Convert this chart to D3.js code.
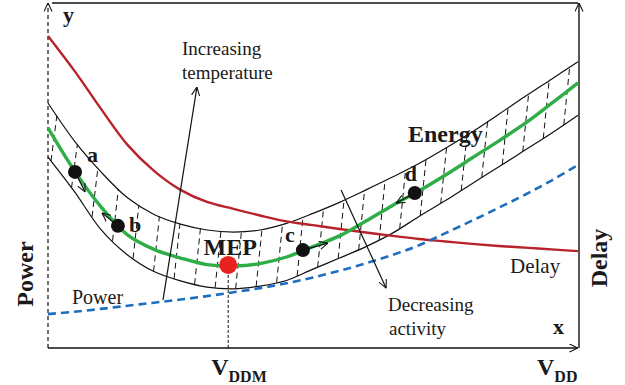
<!DOCTYPE html>
<html>
<head>
<meta charset="utf-8">
<script src="https://cdn.jsdelivr.net/npm/d3@7"></script>
<style>
  body { margin: 0; background: #fff; }
  svg { display: block; font-family: "Liberation Serif", "Times New Roman", serif; }
</style>
</head>
<body>
<div id="chart"></div>
<script>
// supply voltage samples (V), shared by every curve below
var vdd = [0.20, 0.25, 0.30, 0.35, 0.40, 0.45, 0.50, 0.55, 0.60, 0.65, 0.70,
           0.75, 0.80, 0.85, 0.90, 0.95, 1.00, 1.05, 1.10, 1.15, 1.20];
// normalised values
var delay = [0.902, 0.801, 0.691, 0.587, 0.512, 0.457, 0.422, 0.402, 0.383, 0.366, 0.355,
             0.344, 0.334, 0.324, 0.315, 0.308, 0.301, 0.295, 0.290, 0.285, 0.280];
var energy = [0.636, 0.512, 0.408, 0.327, 0.285, 0.260, 0.241, 0.237, 0.244, 0.263, 0.293,
              0.324, 0.367, 0.412, 0.454, 0.500, 0.549, 0.598, 0.649, 0.707, 0.766];
var energyHigh = [0.708, 0.598, 0.509, 0.434, 0.386, 0.358, 0.341, 0.335, 0.341, 0.360, 0.389,
                  0.421, 0.457, 0.494, 0.533, 0.577, 0.624, 0.675, 0.727, 0.777, 0.827];
var energyLow = [0.552, 0.452, 0.342, 0.269, 0.221, 0.194, 0.176, 0.171, 0.179, 0.195, 0.228,
                 0.260, 0.293, 0.332, 0.380, 0.426, 0.475, 0.523, 0.572, 0.621, 0.673];
var power = [0.098, 0.105, 0.113, 0.122, 0.131, 0.140, 0.150, 0.161, 0.173, 0.187, 0.204,
             0.223, 0.245, 0.269, 0.297, 0.332, 0.368, 0.405, 0.443, 0.484, 0.529];

// operating points on the energy curve and where their little arrows point
var opNames = ["a", "b", "c", "d"];
var opV = [0.251, 0.332, 0.681, 0.892];
var opE = [0.509, 0.353, 0.283, 0.448];
var opToV = [0.270, 0.302, 0.728, 0.857];
var opToE = [0.451, 0.390, 0.303, 0.419];

// minimum energy point
var mepV = 0.540, mepE = 0.240;

// long annotation arrows: [start, end] in (V, value)
var tempArrow = [[0.417, 0.139], [0.481, 0.754]];
var activityArrow = [[0.753, 0.457], [0.838, 0.173]];

var width = 625, height = 385;
var x = d3.scaleLinear().domain([0.2, 1.2]).range([48, 578]);
var y = d3.scaleLinear().domain([0, 1]).range([348, 2]);

var svg = d3.select("#chart").append("svg")
            .attr("width", width)
            .attr("height", height);

// open arrowhead used by every arrow
svg.append("defs").append("marker")
   .attr("id", "head")
   .attr("viewBox", "0 -5 10 10")
   .attr("refX", 9.5)
   .attr("refY", 0)
   .attr("markerUnits", "userSpaceOnUse")
   .attr("markerWidth", 9)
   .attr("markerHeight", 9)
   .attr("orient", "auto")
   .append("path")
   .attr("d", "M0,-4.5L9.5,0L0,4.5")
   .attr("fill", "none")
   .attr("stroke", "#111")
   .attr("stroke-width", 1.2);

function xy(v, arr) {
   return v.map(function(d, i) { return {v: d, e: arr[i]}; });
}

var line = d3.line()
             .x(function(d) { return x(d.v); })
             .y(function(d) { return y(d.e); })
             .curve(d3.curveCatmullRom.alpha(0.5));

// frame
svg.append("line")
   .attr("x1", x(0.2)).attr("y1", y(0))
   .attr("x2", x(0.2)).attr("y2", y(1) + 1)
   .attr("stroke", "#111").attr("stroke-width", 1.2)
   .attr("stroke-dasharray", "4,3")
   .attr("marker-end", "url(#head)");
svg.append("line")
   .attr("x1", x(0.2) + 4).attr("y1", y(1) + 1)
   .attr("x2", x(1.2)).attr("y2", y(1) + 1)
   .attr("stroke", "#111").attr("stroke-width", 1.4);
svg.append("line")
   .attr("x1", x(1.2) + 1).attr("y1", y(0))
   .attr("x2", x(1.2) + 1).attr("y2", y(1) + 1)
   .attr("stroke", "#111").attr("stroke-width", 1.4)
   .attr("marker-end", "url(#head)");
svg.append("line")
   .attr("x1", x(0.2)).attr("y1", y(0))
   .attr("x2", x(1.2)).attr("y2", y(0))
   .attr("stroke", "#111").attr("stroke-width", 1.4)
   .attr("marker-end", "url(#head)");

// hatching between the band edges
var highAt = d3.scaleLinear().domain(vdd).range(energyHigh);
var lowAt = d3.scaleLinear().domain(vdd).range(energyLow);
var hatchStep = 0.0387, hatchLean = 0.011;
var hatchV = d3.range(0.2057, 1.2 - hatchLean, hatchStep);
svg.append("g")
   .selectAll("line")
   .data(hatchV)
   .enter().append("line")
   .attr("x1", function(d) { return x(d); })
   .attr("y1", function(d) { return y(lowAt(d)); })
   .attr("x2", function(d) { return x(d + hatchLean); })
   .attr("y2", function(d) { return y(highAt(d + hatchLean)); })
   .attr("stroke", "#111")
   .attr("stroke-width", 1)
   .attr("stroke-dasharray", "6,4");

// band edges
[energyHigh, energyLow].forEach(function(arr) {
   svg.append("path")
      .datum(xy(vdd, arr))
      .attr("fill", "none")
      .attr("stroke", "#111")
      .attr("stroke-width", 1.2)
      .attr("d", line);
});

// delay
svg.append("path")
   .datum(xy(vdd, delay))
   .attr("fill", "none")
   .attr("stroke", "#b8232b")
   .attr("stroke-width", 2.4)
   .attr("d", line);

// power
svg.append("path")
   .datum(xy(vdd, power))
   .attr("fill", "none")
   .attr("stroke", "#1f6dbf")
   .attr("stroke-width", 2.6)
   .attr("stroke-dasharray", "8,5")
   .attr("d", line);

// energy
svg.append("path")
   .datum(xy(vdd, energy))
   .attr("fill", "none")
   .attr("stroke", "#2fae48")
   .attr("stroke-width", 3.4)
   .attr("d", line);

// annotation arrows
[tempArrow, activityArrow].forEach(function(a) {
   svg.append("line")
      .attr("x1", x(a[0][0])).attr("y1", y(a[0][1]))
      .attr("x2", x(a[1][0])).attr("y2", y(a[1][1]))
      .attr("stroke", "#111")
      .attr("stroke-width", 1.2)
      .attr("marker-end", "url(#head)");
});

// little arrows from the operating points
svg.append("g")
   .selectAll("line")
   .data(opNames)
   .enter().append("line")
   .attr("x1", function(d, i) { return x(opV[i]); })
   .attr("y1", function(d, i) { return y(opE[i]); })
   .attr("x2", function(d, i) { return x(opToV[i]); })
   .attr("y2", function(d, i) { return y(opToE[i]); })
   .attr("stroke", "#111")
   .attr("stroke-width", 1.2)
   .attr("marker-end", "url(#head)");

// VDDM drop line
svg.append("line")
   .attr("x1", x(mepV)).attr("y1", y(mepE))
   .attr("x2", x(mepV)).attr("y2", y(0))
   .attr("stroke", "#111")
   .attr("stroke-width", 1)
   .attr("stroke-dasharray", "3,2");

// operating points
svg.append("g")
   .selectAll("circle")
   .data(opNames)
   .enter().append("circle")
   .attr("cx", function(d, i) { return x(opV[i]); })
   .attr("cy", function(d, i) { return y(opE[i]); })
   .attr("r", 7)
   .attr("fill", "#111");

svg.append("circle")
   .attr("cx", x(mepV))
   .attr("cy", y(mepE))
   .attr("r", 9)
   .attr("fill", "#e8231f");

// point labels, offset from their points
var opLabelDx = [12, 11, -18, -10];
var opLabelDy = [-10, 6, -8, -12];
svg.append("g")
   .selectAll("text")
   .data(opNames)
   .enter().append("text")
   .attr("x", function(d, i) { return x(opV[i]) + opLabelDx[i]; })
   .attr("y", function(d, i) { return y(opE[i]) + opLabelDy[i]; })
   .attr("font-size", 22)
   .attr("font-weight", "bold")
   .attr("fill", "#1a1a1a")
   .text(function(d) { return d; });

function label(txt, px, py, size, bold, anchor) {
   return svg.append("text")
             .attr("x", px)
             .attr("y", py)
             .attr("font-size", size)
             .attr("font-weight", bold ? "bold" : "normal")
             .attr("text-anchor", anchor || "start")
             .attr("fill", "#1a1a1a")
             .text(txt);
}

label("MEP", x(mepV) + 2, y(mepE) - 10, 24, true, "middle");
label("Energy", 408, 142, 24, true);
label("Increasing", 182, 55, 19, false);
label("temperature", 182, 79, 19, false);
label("Decreasing", 388, 311, 19, false);
label("activity", 389, 335, 19, false);
label("Power", 72, 304, 20, false);
label("Delay", 510, 273, 21, false);
label("y", 63, 22, 22, true);
label("x", 553, 334, 22, true);

svg.append("text")
   .attr("transform", "translate(33,274) rotate(-90)")
   .attr("text-anchor", "middle")
   .attr("font-size", 24)
   .attr("font-weight", "bold")
   .attr("fill", "#1a1a1a")
   .text("Power");
svg.append("text")
   .attr("transform", "translate(607,258) rotate(-90)")
   .attr("text-anchor", "middle")
   .attr("font-size", 24)
   .attr("font-weight", "bold")
   .attr("fill", "#1a1a1a")
   .text("Delay");

// V_DDM and V_DD under the x axis
function vLabel(px, sub) {
   var t = svg.append("text")
              .attr("x", px)
              .attr("y", 375)
              .attr("font-weight", "bold")
              .attr("fill", "#1a1a1a");
   t.append("tspan").attr("font-size", 24).text("V");
   t.append("tspan").attr("font-size", 16).attr("dy", 7).text(sub);
}
vLabel(x(mepV) - 17, "DDM");
vLabel(537, "DD");
</script>
</body>
</html>
